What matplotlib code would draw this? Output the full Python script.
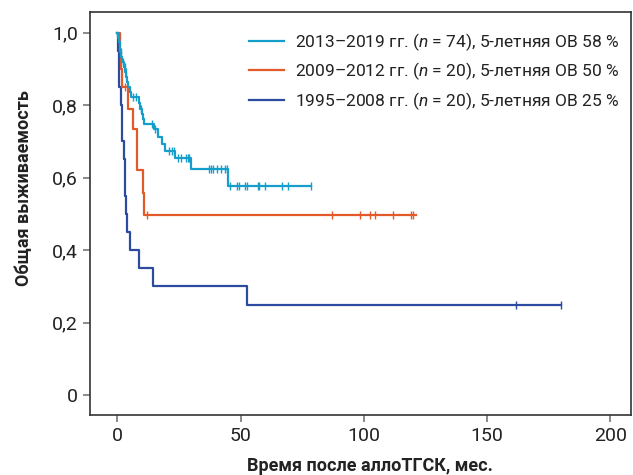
import numpy as np
import matplotlib.pyplot as plt

plt.rcParams['font.family'] = ['Roboto', 'DejaVu Sans']
plt.rcParams['mathtext.fontset'] = 'custom'
plt.rcParams['mathtext.it'] = 'Roboto:italic'
plt.rcParams['mathtext.rm'] = 'Roboto'

# 2013-2019 (n = 74)
t_13 = [0, 0.3, 0.6, 0.9, 1.2, 1.6, 2.0, 2.7, 3.2, 3.5, 3.8, 4.2, 5.2, 5.5, 8.6, 9.0,
        10.0, 10.3, 10.6, 14.8, 16.6, 18.2, 19.3, 23.3, 29.7, 44.9]
s_13 = [1.0, 0.986, 0.973, 0.959, 0.946, 0.932, 0.919, 0.905, 0.891, 0.877, 0.863, 0.849,
        0.835, 0.821, 0.806, 0.790, 0.775, 0.761, 0.748, 0.735, 0.713, 0.692, 0.674, 0.653,
        0.624, 0.578]
c_13 = [1.4, 2.4, 3.0, 3.4, 6.2, 7.5, 9.7, 13.9, 15.3, 21.0, 22.0, 22.9, 24.5, 25.6, 27.8,
        28.5, 29.1, 37.2, 37.8, 38.8, 40.2, 41.9, 43.5, 44.5, 45.6, 48.5, 49.2, 51.8, 52.4,
        57.0, 57.4, 59.9, 66.9, 69.2, 78.6]
end_13 = 78.6

# 2009-2012 (n = 20)
t_09 = [0, 0.9, 1.3, 1.8, 4.1, 6.4, 7.8, 10.3, 10.9]
s_09 = [1.0, 0.95, 0.90, 0.85, 0.79, 0.733, 0.621, 0.558, 0.497]
c_09 = [3.0, 11.9, 87.0, 98.3, 102.6, 104.5, 111.7, 119.3, 120.1]
end_09 = 121.0

# 1995-2008 (n = 20)
t_95 = [0, 0.3, 0.5, 0.7, 1.6, 1.8, 2.0, 2.7, 3.0, 3.2, 3.4, 4.0, 4.9, 8.9, 14.3, 52.6]
s_95 = [1.0, 0.95, 0.90, 0.85, 0.80, 0.75, 0.70, 0.65, 0.60, 0.55, 0.50, 0.45, 0.40,
        0.35, 0.30, 0.25]
c_95 = [161.6, 180.0]
end_95 = 180.0

labels = ['2013–2019 гг. ($\\it{n}$ = 74), 5-летняя ОВ 58 %',
          '2009–2012 гг. ($\\it{n}$ = 20), 5-летняя ОВ 50 %',
          '1995–2008 гг. ($\\it{n}$ = 20), 5-летняя ОВ 25 %']
colors = ['#149ec9', '#e2592a', '#2c4a9e']

xticks = [0, 50, 100, 150, 200]
yticks = [0, 0.2, 0.4, 0.6, 0.8, 1.0]
ytick_labels = ['0', '0,2', '0,4', '0,6', '0,8', '1,0']

fig = plt.figure(figsize=(6.33, 4.75), dpi=100)
ax = fig.add_axes([0.142, 0.126, 0.855, 0.849])

series = [(t_13, s_13, c_13, end_13), (t_09, s_09, c_09, end_09), (t_95, s_95, c_95, end_95)]
handles = []
for (t, s, c, end), col, lab in zip(series, colors, labels):
    tt = list(t) + [end]
    ss = list(s) + [s[-1]]
    h, = ax.step(tt, ss, where='post', color=col, lw=1.6, label=lab)
    handles.append(h)
    idx = np.searchsorted(t, c, side='right') - 1
    ax.plot(c, np.array(s)[idx], ls='none', marker='|', ms=6, mew=1.0, color=col)

# draw blue and orange under teal
for h, z in zip(handles, [4, 3, 2]):
    h.set_zorder(z)

ax.set_xlim(-11.2, 208.5)
ax.set_ylim(-0.055, 1.057)
ax.set_xticks(xticks)
ax.set_yticks(yticks)
ax.set_yticklabels(ytick_labels)
ax.tick_params(labelsize=14, color='#777777', length=5, width=1.2, colors='#777777',
               labelcolor='#222222')
for sp in ax.spines.values():
    sp.set_color('#333333')
    sp.set_linewidth(1.2)

ax.set_ylabel('Общая выживаемость', fontsize=13, fontweight='bold', color='#222222')
ax.yaxis.set_label_coords(-0.105, 0.563)
ax.set_xlabel('Время после аллоТГСК, мес.', fontsize=13, fontweight='bold', color='#222222')
ax.xaxis.set_label_coords(0.518, -0.105)

leg = ax.legend(handles=handles, loc='upper right', bbox_to_anchor=(1.0, 0.983),
                frameon=False, fontsize=12.5, handlelength=2.0, handletextpad=0.6,
                labelspacing=0.45, borderaxespad=0.3)
for txt in leg.get_texts():
    txt.set_color('#222222')

plt.savefig('out.png', dpi=100)
